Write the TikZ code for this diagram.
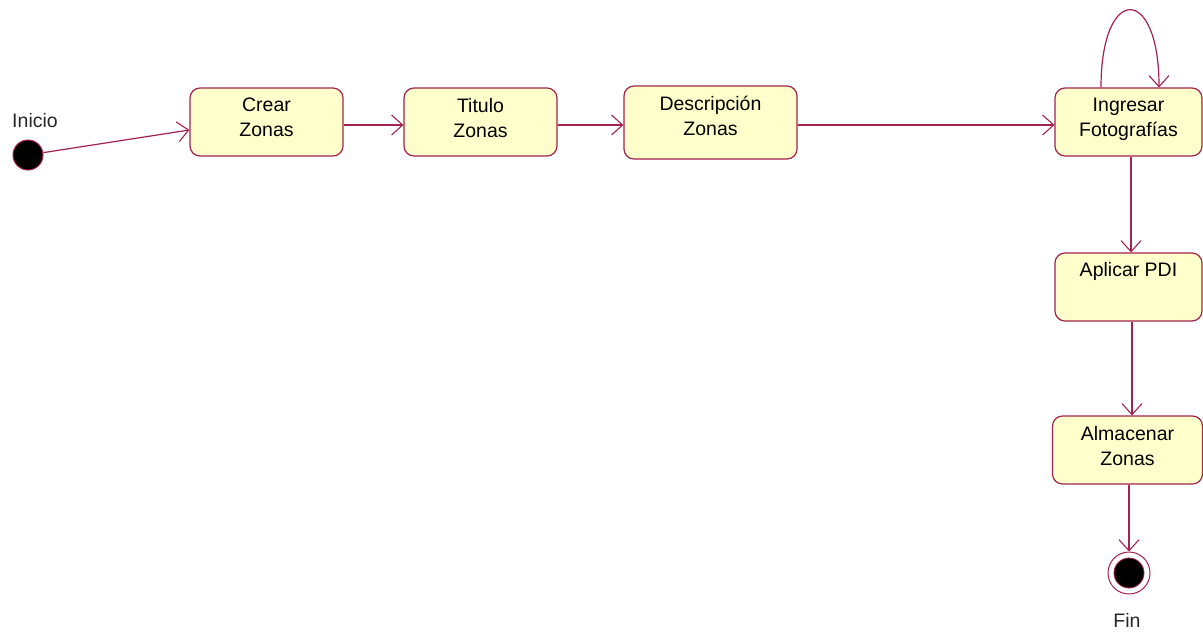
\documentclass[tikz,border=0pt]{standalone}
\usepackage{fontspec}
\setmainfont{Liberation Sans}
\usetikzlibrary{arrows.meta}
\definecolor{umlline}{HTML}{A3234F}
\definecolor{umlfill}{HTML}{FFFFCC}
\tikzset{
  state/.style={draw=umlline, fill=umlfill, line width=1.2pt, rounded corners=10pt,
    align=center, inner sep=0pt, font=\fontsize{19.5}{25}\selectfont},
  flow/.style={draw=umlline, line width=1.2pt, -{Straight Barb[length=11pt,width=20pt,line width=1.1pt]}},
  lbl/.style={font=\fontsize{19.5}{25}\selectfont, text=black!85}
}
\begin{document}
\begin{tikzpicture}[x=1pt,y=-1pt]
\useasboundingbox (0,0) rectangle (1203,632);
\fill[white] (0,0) rectangle (1203,632);

\node[state, minimum width=153pt, minimum height=68pt] (crear) at (266.5,122) {Crear\\Zonas\\[-16pt]};
\node[state, minimum width=153pt, minimum height=68pt] (titulo) at (480.5,122) {Titulo\\Zonas\\[-16pt]};
\node[state, minimum width=173pt, minimum height=73pt] (desc) at (710.5,122.5) {Descripción\\Zonas\\[-12pt]};
\node[state, minimum width=147pt, minimum height=68pt] (ingr) at (1128.5,122) {Ingresar\\Fotografías\\[-16pt]};
\node[state, minimum width=147pt, minimum height=68pt] (aplic) at (1128.5,287) {Aplicar PDI\\[10pt]};
\node[state, minimum width=150pt, minimum height=68pt] (alm) at (1127.5,450) {Almacenar\\Zonas\\[-16pt]};

\node[circle, fill=black, draw=umlline, line width=1pt, minimum size=30pt, inner sep=0pt] (ini) at (28,155) {};
\node[lbl] (inilbl) at (35,121) {Inicio};

\node[circle, draw=umlline, line width=1pt, fill=white, minimum size=42pt, inner sep=0pt] (fin) at (1129,573) {};
\node[circle, fill=black, draw=umlline, line width=0.8pt, minimum size=30pt, inner sep=0pt] (fininner) at (fin) {};
\node[lbl] (finlbl) at (1127,620) {Fin};

\draw[flow] (ini) -- ([yshift=-8pt]crear.west);
\draw[flow] ([yshift=-3pt]crear.east) -- ([yshift=-3pt]titulo.west);
\draw[flow] ([yshift=-3pt]titulo.east) -- ([yshift=-2.5pt]desc.west);
\draw[flow] ([yshift=-2.5pt]desc.east) -- ([yshift=-3pt]ingr.west);
\draw[flow] ([xshift=-27.5pt]ingr.north) .. controls (1101,-16) and (1159,-16) .. ([xshift=30.5pt]ingr.north);
\draw[flow] ([xshift=2.5pt]ingr.south) -- ([xshift=2.5pt]aplic.north);
\draw[flow] ([xshift=3.5pt]aplic.south) -- ([xshift=4.5pt]alm.north);
\draw[flow] ([xshift=1.5pt]alm.south) -- (fin.north);
\end{tikzpicture}
\end{document}
